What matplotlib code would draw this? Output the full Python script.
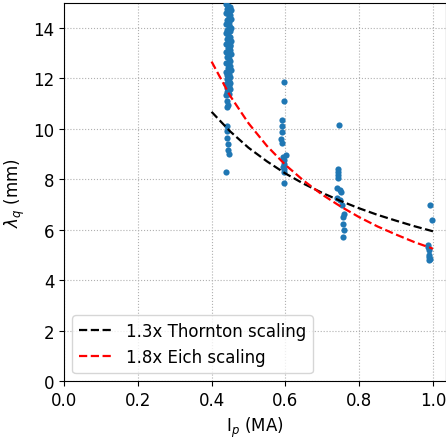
import matplotlib
matplotlib.use('Agg')
import matplotlib.pyplot as plt

# measured lambda_q per plasma current shot group
ip_044 = [0.440, 0.445, 0.450, 0.443, 0.452, 0.447, 0.439, 0.451, 0.446, 0.453,
          0.441, 0.448, 0.438, 0.446, 0.452, 0.443, 0.450, 0.440, 0.445, 0.449,
          0.442, 0.453, 0.447, 0.439, 0.451, 0.444, 0.449, 0.440, 0.452, 0.446,
          0.441, 0.448, 0.451, 0.438, 0.444, 0.450, 0.445, 0.452, 0.440, 0.447,
          0.443, 0.451, 0.441, 0.446, 0.449, 0.439, 0.447, 0.443, 0.450, 0.445,
          0.442, 0.447, 0.439, 0.444, 0.450, 0.446, 0.442,
          0.441, 0.444, 0.443, 0.442, 0.442, 0.443, 0.444, 0.445, 0.446, 0.439]
lq_044 = [14.95, 14.88, 14.82, 14.76, 14.70, 14.63, 14.57, 14.50, 14.43, 14.36,
          14.30, 14.22, 14.15, 14.08, 14.00, 13.93, 13.86, 13.78, 13.71, 13.64,
          13.56, 13.49, 13.42, 13.35, 13.27, 13.20, 13.13, 13.05, 12.98, 12.91,
          12.84, 12.76, 12.69, 12.62, 12.55, 12.47, 12.40, 12.33, 12.26, 12.18,
          12.11, 12.04, 11.97, 11.90, 11.83, 11.76, 11.69, 11.62, 11.56, 11.50,
          11.44, 11.38, 11.33, 12.60, 13.30, 14.10, 14.60,
          11.10, 10.95, 10.85, 10.10, 9.92, 9.62, 9.38, 9.17, 9.02, 8.27]

ip_059 = [0.595, 0.595, 0.592, 0.592, 0.590, 0.589, 0.592, 0.603, 0.594, 0.595,
          0.596, 0.593, 0.597, 0.595, 0.597]
lq_059 = [11.85, 11.10, 10.34, 10.10, 9.88, 9.59, 9.42, 8.98, 8.90, 8.75,
          8.61, 8.50, 8.42, 8.30, 7.87]

ip_074 = [0.746, 0.742, 0.742, 0.742, 0.743, 0.741, 0.747, 0.751, 0.741, 0.749,
          0.753, 0.758, 0.756, 0.756, 0.758, 0.755]
lq_074 = [10.14, 8.42, 8.30, 8.16, 8.05, 7.66, 7.56, 7.50, 7.26, 7.17,
          6.97, 6.64, 6.50, 6.24, 5.98, 5.71]

ip_099 = [0.992, 0.997, 0.987, 0.987, 0.988, 0.990, 0.989, 0.992, 0.990]
lq_099 = [6.98, 6.37, 5.40, 5.32, 5.18, 5.01, 4.92, 4.85, 4.80]

# scaling curves
ip_fit = [0.40, 0.45, 0.50, 0.55, 0.60, 0.65, 0.70, 0.75, 0.80, 0.85, 0.90, 0.95, 1.00]
thornton = [10.67, 9.90, 9.25, 8.71, 8.23, 7.82, 7.46, 7.14, 6.85, 6.59, 6.36, 6.14, 5.94]
eich = [12.66, 11.31, 10.22, 9.32, 8.57, 7.94, 7.39, 6.92, 6.50, 6.13, 5.81, 5.51, 5.25]

plt.rcParams['font.size'] = 12

fig = plt.figure(figsize=(4.46, 4.39), dpi=100)
ax = fig.add_axes([64/446, 1 - 382.3/439, (445.5 - 64)/446, (382.3 - 3.5)/439])

for xs, ys in [(ip_044, lq_044), (ip_059, lq_059), (ip_074, lq_074), (ip_099, lq_099)]:
    ax.scatter(xs, ys, s=20, color='#1f77b4', linewidths=0, zorder=3)

ax.plot(ip_fit, thornton, 'k--', lw=1.6, label='1.3x Thornton scaling', zorder=4)
ax.plot(ip_fit, eich, 'r--', lw=1.6, label='1.8x Eich scaling', zorder=4)

ax.set_xlim(0, 1.034)
ax.set_ylim(0, 15)
ax.grid(linestyle=':', color='#b0b0b0')
ax.set_xlabel('I$_p$ (MA)')
ax.set_ylabel('$\\lambda_q$ (mm)')
ax.legend(loc='lower left')

fig.savefig('out.png', dpi=100)
